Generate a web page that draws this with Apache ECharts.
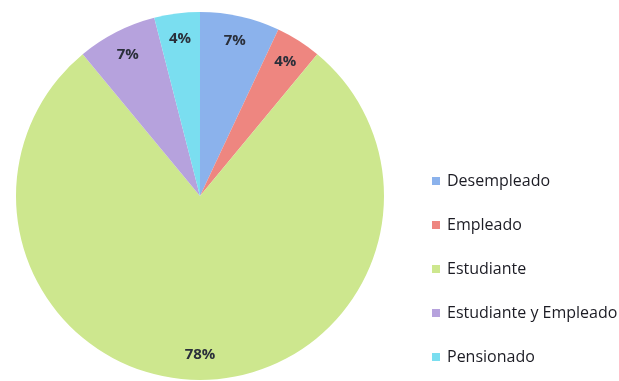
<!DOCTYPE html>
<html>
<head>
<meta charset="utf-8">
<script src="https://cdn.jsdelivr.net/npm/echarts@6/dist/echarts.min.js"></script>
<style>
  html, body { margin: 0; padding: 0; background: #ffffff; }
  #chart { width: 619px; height: 381px; }
</style>
</head>
<body>
<div id="chart"></div>
<script>
// Situación laboral de los encuestados (porcentajes)
const categorias = ['Desempleado', 'Empleado', 'Estudiante', 'Estudiante y Empleado', 'Pensionado'];
const porcentajes = [7, 4, 78, 7, 4];
const colores = ['#8bb2ec', '#ee8680', '#cde78e', '#b6a2dd', '#7adef0'];

const chart = echarts.init(document.getElementById('chart'), null, { renderer: 'canvas' });
chart.setOption({
  animation: false,
  color: colores,
  legend: {
    orient: 'vertical',
    left: 427,
    top: 168,
    itemWidth: 8,
    itemHeight: 8,
    itemGap: 28,
    icon: 'rect',
    textStyle: { fontFamily: 'Open Sans', fontSize: 16, color: '#1c1c24', padding: [0, 0, 0, 2] },
    data: categorias
  },
  series: [
    {
      type: 'pie',
      center: [200, 196],
      radius: [0, 184],
      startAngle: 90,
      clockwise: true,
      label: { show: false },
      labelLine: { show: false },
      silent: true,
      data: categorias.map((nombre, i) => ({ name: nombre, value: porcentajes[i] }))
    },
    {
      // anillo transparente que solo sitúa las etiquetas cerca del borde
      type: 'pie',
      center: [200, 196],
      radius: [128, 184],
      startAngle: 90,
      clockwise: true,
      silent: true,
      itemStyle: { color: 'rgba(0,0,0,0)' },
      label: {
        show: true,
        position: 'inside',
        formatter: '{c}%',
        fontFamily: 'Open Sans',
        fontWeight: 'bold',
        fontSize: 15,
        color: '#2a2f3a'
      },
      labelLine: { show: false },
      data: categorias.map((nombre, i) => ({ name: nombre, value: porcentajes[i] }))
    }
  ]
});
</script>
</body>
</html>
